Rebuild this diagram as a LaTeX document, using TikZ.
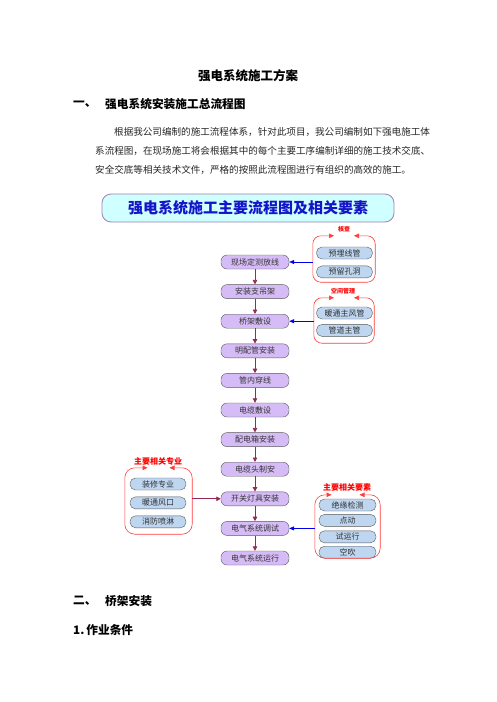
\documentclass[tikz,border=0pt]{standalone}
\usepackage{fontspec}
\setmainfont{Noto Sans CJK SC}
\usepackage{tikz}
\usetikzlibrary{arrows.meta,positioning}
\definecolor{boxpurple}{RGB}{214,188,246}
\definecolor{boxblue}{RGB}{190,214,240}
\definecolor{bannercyan}{RGB}{208,255,255}
\definecolor{bannerline}{RGB}{160,130,180}
\definecolor{bannertext}{RGB}{20,20,200}
\definecolor{flowred}{RGB}{150,40,90}
\definecolor{grpred}{RGB}{255,60,60}
\definecolor{linkblue}{RGB}{0,0,235}

\begin{document}
\begin{tikzpicture}[x=1pt,y=-1pt,node distance=15.2pt]
\tikzstyle{every node}=[inner sep=0pt]
\tikzstyle{mainbox}=[draw=black!65,fill=boxpurple,rounded corners=6pt,minimum width=68pt,minimum height=14pt,font=\fontsize{8}{8}\selectfont,text=black!80]
\tikzstyle{subbox}=[draw=black!65,fill=boxblue,rounded corners=5.5pt,minimum width=56pt,minimum height=12pt,font=\fontsize{8}{8}\selectfont,text=black!80]
\tikzstyle{grplabel}=[text=red,font=\bfseries\fontsize{6}{6}\selectfont]
\tikzstyle{grpline}=[draw=grpred,line width=0.6pt,rounded corners=8pt,{Triangle[length=5pt,width=4.5pt]}-{Triangle[length=5pt,width=4.5pt]}]
\tikzstyle{flow}=[draw=flowred,line width=0.8pt,-{Triangle[length=4.5pt,width=4.5pt]}]
\tikzstyle{link}=[draw=linkblue,line width=0.6pt,-{Triangle[length=5pt,width=4pt]}]
\tikzstyle{heading}=[anchor=west,font=\bfseries\fontsize{11.7}{12}\selectfont]
\tikzstyle{body}=[anchor=west,font=\fontsize{9.57}{10}\selectfont,text=black!85]

\fill[white] (0,0) rectangle (496,702);
\useasboundingbox (0,0) rectangle (496,702);

\node[font=\bfseries\fontsize{12.5}{13}\selectfont] (title) at (248,76) {强电系统施工方案};
\node[heading] (h1n) at (73,104) {一、};
\node[heading] (h1) at (105,104) {强电系统安装施工总流程图};
\node[body] (p1) at (114,132) {根据我公司编制的施工流程体系，针对此项目，我公司编制如下强电施工体};
\node[body] (p2) at (95,151) {系流程图，在现场施工将会根据其中的每个主要工序编制详细的施工技术交底、};
\node[body] (p3) at (95,170) {安全交底等相关技术文件，严格的按照此流程图进行有组织的高效的施工。};

\node[draw=bannerline,fill=bannercyan,line width=0.8pt,rounded corners=9pt,minimum width=292pt,minimum height=28pt,text=bannertext,font=\bfseries\fontsize{15}{15}\selectfont] (banner) at (248,208) {强电系统施工主要流程图及相关要素};

\node[mainbox] (s1) at (255,262) {现场定测放线};
\node[mainbox,below=of s1] (s2) {安装支吊架};
\node[mainbox,below=of s2] (s3) {桥架敷设};
\node[mainbox,below=of s3] (s4) {明配管安装};
\node[mainbox,below=of s4] (s5) {管内穿线};
\node[mainbox,below=of s5] (s6) {电缆敷设};
\node[mainbox,below=of s6] (s7) {配电箱安装};
\node[mainbox,below=of s7] (s8) {电缆头制安};
\node[mainbox,below=of s8] (s9) {开关灯具安装};
\node[mainbox,below=of s9] (s10) {电气系统调试};
\node[mainbox,below=of s10] (s11) {电气系统运行};
\foreach \a/\b in {s1/s2,s2/s3,s3/s4,s4/s5,s5/s6,s6/s7,s7/s8,s8/s9,s9/s10,s10/s11}
  \draw[flow] (\a) -- (\b);

% 核查
\node[minimum width=62pt,minimum height=46pt] (g1) at (344,259) {};
\node[subbox] (a1) at (344.5,253) {预埋线管};
\node[subbox,below=6.5pt of a1] (a2) {预留孔洞};
\draw[grpline] ([xshift=-10pt]g1.north) -| (g1.south west) -| (g1.north east) -- ([xshift=10pt]g1.north);
\node[grplabel] (l1) at (344,229) {核查};
\draw[link] (g1.west |- s1.east) -- (s1.east);

% 空间管理
\node[minimum width=60pt,minimum height=45pt] (g2) at (344,320.5) {};
\node[subbox] (b1) at (344.5,313) {暖通主风管};
\node[subbox,below=5pt of b1] (b2) {管道主管};
\draw[grpline] ([xshift=-10pt]g2.north) -| (g2.south west) -| (g2.north east) -- ([xshift=10pt]g2.north);
\node[grplabel] (l2) at (343,291) {空间管理};
\draw[link] (g2.west |- s3.east) -- (s3.east);

% 主要相关专业
\node[minimum width=67pt,minimum height=66pt] (g3) at (158.5,501) {};
\node[subbox] (c1) at (158,484) {装修专业};
\node[subbox,below=6.5pt of c1] (c2) {暖通风口};
\node[subbox,below=6.5pt of c2] (c3) {消防喷淋};
\draw[grpline,rounded corners=10pt] ([xshift=-11pt]g3.north) -| (g3.south west) -| (g3.north east) -- ([xshift=11pt]g3.north);
\node[grplabel,font=\bfseries\fontsize{8}{8}\selectfont] (l3) at (158,461) {主要相关专业};
\draw[flow] (g3.east |- s9.west) -- (s9.west);

% 主要相关要素
\node[minimum width=65pt,minimum height=63pt] (g4) at (347.5,526.5) {};
\node[subbox,minimum width=57pt] (d1) at (347.5,505) {绝缘检测};
\node[subbox,minimum width=57pt,below=3pt of d1] (d2) {点动};
\node[subbox,minimum width=57pt,below=4pt of d2] (d3) {试运行};
\node[subbox,minimum width=57pt,below=3pt of d3] (d4) {空吹};
\draw[grpline,rounded corners=10pt] ([xshift=-16pt]g4.north) -| (g4.south west) -| (g4.north east) -- ([xshift=12pt]g4.north);
\node[grplabel,font=\bfseries\fontsize{8}{8}\selectfont] (l4) at (347,487) {主要相关要素};
\draw[link] (g4.west |- s10.east) -- (s10.east);

\node[heading] (h2n) at (73,601) {二、};
\node[heading] (h2) at (105,601) {桥架安装};
\node[heading] (h3) at (73,630) {1.\,作业条件};
\end{tikzpicture}
\end{document}
